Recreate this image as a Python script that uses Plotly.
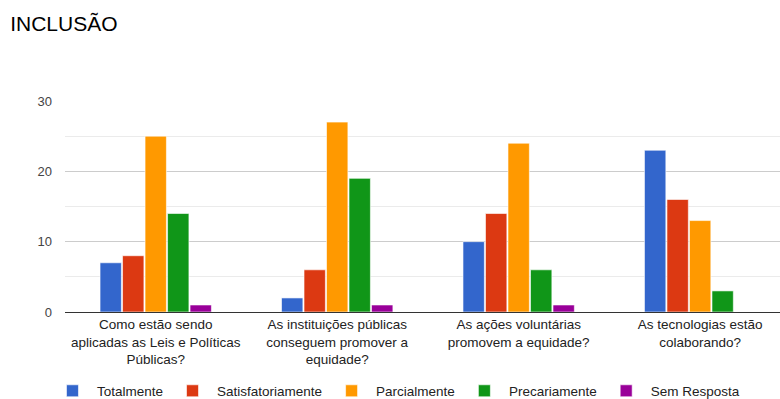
import plotly.graph_objects as go

categories = [
    "Como estão sendo<br>aplicadas as Leis e Políticas<br>Públicas?",
    "As instituições públicas<br>conseguem promover a<br>equidade?",
    "As ações voluntárias<br>promovem a equidade?",
    "As tecnologias estão<br>colaborando?",
]
series_names = ["Totalmente", "Satisfatoriamente", "Parcialmente", "Precariamente", "Sem Resposta"]
totalmente = [7, 2, 10, 23]
satisfatoriamente = [8, 6, 14, 16]
parcialmente = [25, 27, 24, 13]
precariamente = [14, 19, 6, 3]
sem_resposta = [1, 1, 1, 0]
colors = ["#3366cc", "#dc3912", "#ff9900", "#109618", "#990099"]
y_ticks = [0, 10, 20, 30]

fig = go.Figure()
for name, vals, c in zip(series_names,
                         [totalmente, satisfatoriamente, parcialmente, precariamente, sem_resposta],
                         colors):
    fig.add_trace(go.Bar(x=categories, y=vals, name=name,
                         marker=dict(color=c, line=dict(color="rgba(255,255,255,0.6)", width=1))))

fig.update_layout(
    width=780, height=399,
    margin=dict(l=65, r=0, t=101, b=87, autoexpand=False),
    paper_bgcolor="white", plot_bgcolor="white",
    font=dict(family="Arial, Liberation Sans, sans-serif", size=13.5, color="#222"),
    title=dict(text="INCLUSÃO", x=0.013, xanchor="left", y=0.94, yanchor="middle",
               font=dict(size=21, color="#000")),
    barmode="group", bargap=0.38, bargroupgap=0.05,
    showlegend=True,
    legend=dict(orientation="h", xref="container", x=0.0615, xanchor="left",
                yref="container", y=0.02, yanchor="middle", itemwidth=39,
                font=dict(size=13.5, color="#222"), traceorder="normal"),
    xaxis=dict(showline=True, linecolor="#333", linewidth=1, ticks="", automargin=False,
               range=[-0.5, 3.44], tickfont=dict(size=13.5, color="#222")),
    yaxis=dict(range=[0, 30], tickvals=y_ticks, showgrid=True, gridcolor="#ccc", automargin=False,
               minor=dict(dtick=5, showgrid=True, gridcolor="#ebebeb"),
               zeroline=True, zerolinecolor="#333", zerolinewidth=1,
               tickfont=dict(size=13, color="#444"), ticklabelstandoff=12),
)
fig.write_html("out.html")
